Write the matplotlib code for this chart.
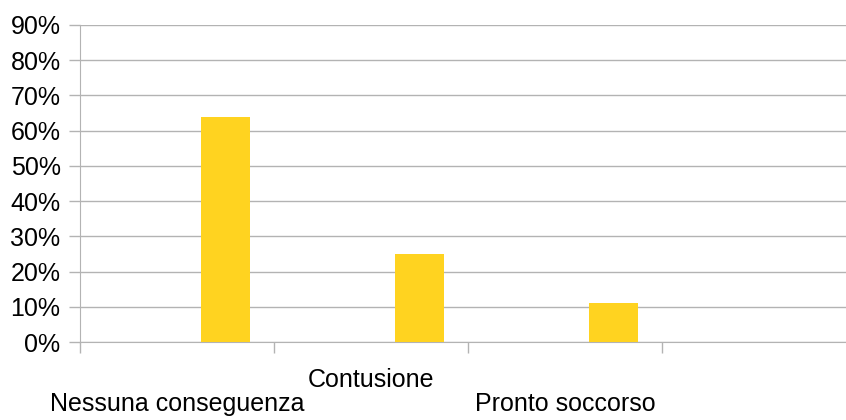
import numpy as np
import matplotlib.pyplot as plt

# categorie e percentuali
categorie = ["Nessuna conseguenza", "Contusione", "Pronto soccorso", ""]
percentuali = [0.64, 0.25, 0.11, np.nan]
yticks = [0.0, 0.1, 0.2, 0.3, 0.4, 0.5, 0.6, 0.7, 0.8, 0.9]

plt.rcParams['font.family'] = ['Liberation Sans', 'DejaVu Sans']
grigio = '#b3b3b3'

fig = plt.figure(figsize=(8.46, 4.2), dpi=100)
# the fourth category runs past the right edge of the figure
ax = fig.add_axes([80 / 846, 78 / 420, 776 / 846, 317 / 420])

x = np.arange(len(categorie))
ax.bar(x + 0.25, percentuali, width=0.25, color='#ffd320', zorder=3)

ax.set_xlim(-0.5, len(categorie) - 0.5)
ax.set_ylim(0, 0.9)
ax.set_yticks(yticks)
ax.set_yticklabels([f"{int(round(v * 100))}%" for v in yticks], fontsize=18)
ax.yaxis.grid(True, color=grigio, linewidth=1, zorder=0)
ax.tick_params(axis='y', length=8, color=grigio, width=1, pad=6)

# category boundaries as x ticks, labels drawn separately in two rows
ax.set_xticks(x - 0.5)
ax.set_xticklabels([])
ax.tick_params(axis='x', length=8, color=grigio, width=1)
for i, nome in enumerate(categorie):
    riga = 0.12 if i % 2 == 1 else 0.195
    ax.text(i, -riga, nome, transform=ax.get_xaxis_transform(),
            ha='center', va='center', fontsize=18)

for lato in ['top', 'right']:
    ax.spines[lato].set_visible(False)
ax.spines['left'].set_color(grigio)
ax.spines['bottom'].set_color(grigio)

fig.savefig('out.png', dpi=100)
